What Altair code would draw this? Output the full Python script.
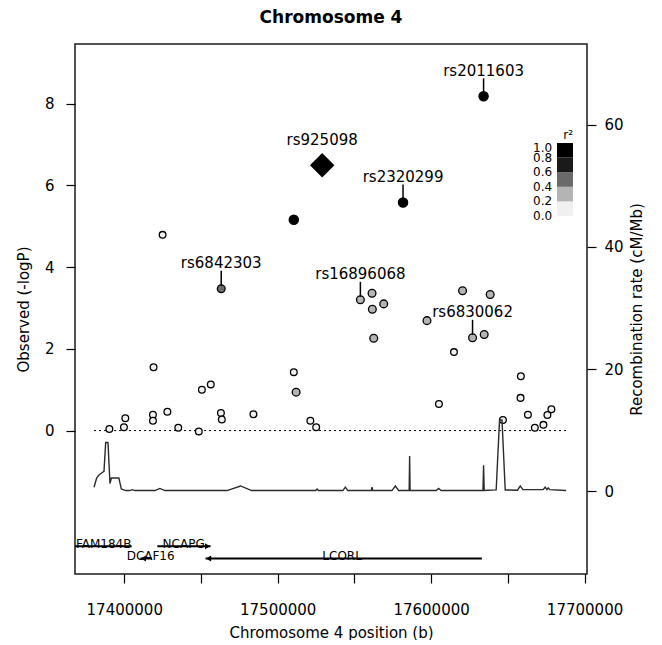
import altair as alt
import pandas as pd

FONT = "DejaVu Sans"

# ---------------- data ----------------
x_ticks = [17400000, 17450000, 17500000, 17550000, 17600000, 17650000, 17700000]
p_ticks = [0, 2, 4, 6, 8]
rec_ticks = [0, 20, 40, 60]
# legend boundaries (Vega skips the first entry of a discrete gradient, hence the leading 0)
r2_ticks = [0.0, 0.0001, 0.2, 0.4, 0.6, 0.8, 1.0]
X_DOMAIN = [17367900, 17701600]
P_DOMAIN = [-3.51, 9.46]
R_DOMAIN = [-13.5, 73.2]

snp_pos = [17425000, 17419100, 17450600, 17456400, 17510500, 17400700, 17399800,
           17390300, 17418700, 17418700, 17428100, 17435200, 17448600, 17463000,
           17463600, 17484200, 17521300, 17525100, 17614900, 17658500, 17658300,
           17605100, 17663100, 17646800, 17667600, 17673200, 17675800, 17678400,
           17512000, 17553900, 17561500, 17561700, 17569100, 17562600, 17597300,
           17620500, 17638500, 17627000, 17634600,
           17463200,
           17634200, 17581700, 17510500]
snp_logp = [4.79, 1.55, 1.00, 1.13, 1.43, 0.30, 0.08,
            0.04, 0.39, 0.24, 0.46, 0.07, -0.02, 0.43,
            0.27, 0.40, 0.24, 0.08, 1.92, 1.33, 0.80,
            0.65, 0.39, 0.26, 0.07, 0.14, 0.38, 0.52,
            0.94, 3.20, 3.36, 2.97, 3.10, 2.26, 2.69,
            3.42, 3.33, 2.27, 2.35,
            3.47,
            8.18, 5.58, 5.16]
snp_r2 = [0.05, 0.05, 0.05, 0.05, 0.05, 0.05, 0.05,
          0.05, 0.05, 0.05, 0.05, 0.05, 0.05, 0.05,
          0.05, 0.05, 0.05, 0.05, 0.05, 0.05, 0.05,
          0.05, 0.05, 0.05, 0.05, 0.05, 0.05, 0.05,
          0.3, 0.3, 0.3, 0.3, 0.3, 0.3, 0.3,
          0.3, 0.3, 0.3, 0.3,
          0.5,
          0.9, 0.9, 0.9]
snp_name = ["", "", "", "", "", "", "",
            "", "", "", "", "", "", "",
            "", "", "", "", "", "", "",
            "", "", "", "", "", "", "",
            "", "rs16896068", "", "", "", "", "",
            "", "", "rs6830062", "",
            "rs6842303",
            "rs2011603", "rs2320299", ""]

lead_pos = [17529000]
lead_logp = [6.49]
lead_name = ["rs925098"]

rec_pos = [17380300, 17382000, 17383500, 17385700, 17386800, 17387900, 17389400,
           17390700, 17391600, 17396500, 17398100, 17400900, 17403500, 17405300,
           17407000, 17420000, 17423200, 17426500, 17467000, 17475800, 17483000,
           17524800, 17525700, 17526600, 17542500, 17544100, 17545700, 17561000,
           17561500, 17562000, 17574500, 17576700, 17578900, 17585700, 17586000,
           17586300, 17603300, 17604900, 17606500, 17633800, 17634200, 17634600,
           17642400, 17644600, 17646200, 17648300, 17656300, 17658100, 17659900,
           17673000, 17674300, 17675500, 17676300, 17677300, 17688000]
rec_rate = [0.7, 2.2, 2.7, 3.1, 3.3, 8.0, 8.0,
            1.3, 2.2, 2.2, 0.4, 0.15, 0.15, 0.3,
            0.15, 0.15, 0.5, 0.15, 0.15, 0.9, 0.15,
            0.15, 0.4, 0.15, 0.15, 0.7, 0.15, 0.15,
            0.7, 0.15, 0.15, 0.9, 0.15, 0.15, 5.8,
            0.15, 0.15, 0.5, 0.15, 0.15, 4.3, 0.15,
            0.25, 11.7, 11.7, 0.25, 0.2, 0.9, 0.3,
            0.3, 0.7, 0.3, 0.6, 0.3, 0.15]

gene_name = ["FAM184B", "NCAPG", "DCAF16", "LCORL"]
gene_start = [17340000, 17421550, 17410500, 17453000]
gene_end = [17404800, 17456250, 17418000, 17633100]
gene_strand = ["-", "+", "-", "-"]
gene_row = [0, 0, 1, 1]
gene_label_pos = [17386600, 17438700, 17417200, 17542000]

r2_colors = ["#f0f0f0", "#b4b4b4", "#6a6a6a", "#1a1a1a", "#000000"]

# ---------------- tables ----------------
snps = pd.DataFrame({"pos": snp_pos, "logp": snp_logp, "r2": snp_r2, "name": snp_name})
labeled = snps[snps["name"] != ""]
lead = pd.DataFrame({"pos": lead_pos, "logp": lead_logp, "name": lead_name})
all_labels = pd.concat([labeled[["pos", "logp", "name"]], lead], ignore_index=True)
rec = pd.DataFrame({"pos": rec_pos, "rate": rec_rate})
genes = pd.DataFrame({"name": gene_name, "start": gene_start, "end": gene_end,
                      "strand": gene_strand, "row": gene_row, "lpos": gene_label_pos})
base = pd.DataFrame({"x0": [min(rec_pos)], "x1": [max(rec_pos)], "v": [0]})

# ---------------- scales / axes ----------------
x_axis = alt.Axis(values=x_ticks,
                  labelExpr="datum.value % 100000 === 0 ? format(datum.value, 'd') : ''",
                  title="Chromosome 4 position (b)", tickSize=9, labelPadding=19,
                  titlePadding=8, labelFlush=False, labelOverlap=False,
                  grid=False, domain=False)
x_scale = alt.Scale(domain=X_DOMAIN, nice=False, zero=False)
p_axis = alt.Axis(values=p_ticks, title="Observed (-logP)", orient="left", tickSize=9,
                  labelPadding=12, titlePadding=13, grid=False, domain=False)
p_scale = alt.Scale(domain=P_DOMAIN, nice=False, zero=False)
r_axis = alt.Axis(values=rec_ticks, title="Recombination rate (cM/Mb)", orient="right",
                  tickSize=9, labelPadding=8, titlePadding=6, titleAngle=270,
                  titleBaseline="top", grid=False, domain=False)
r_scale = alt.Scale(domain=R_DOMAIN, nice=False, zero=False)


def X(field):
    return alt.X(f"{field}:Q", scale=x_scale, axis=x_axis)


def Y(field):
    return alt.Y(f"{field}:Q", scale=p_scale, axis=p_axis)


dotted = alt.Chart(base).mark_rule(strokeDash=[2, 3], color="black", strokeWidth=1).encode(
    x=X("x0"), x2="x1:Q", y=Y("v"))

gene_base = alt.Chart(genes).transform_calculate(gy="-2.83 - 0.30 * datum.row")

gene_lines = gene_base.mark_rule(color="black", strokeWidth=2, clip=True).encode(
    x=X("start"), x2="end:Q", y=Y("gy"))

arrows_r = gene_base.transform_filter("datum.strand === '+'").mark_point(
    shape="triangle-right", filled=True, size=35, color="black", opacity=1,
    xOffset=-3, clip=True).encode(x=X("end"), y=Y("gy"))

arrows_l = gene_base.transform_filter("datum.strand === '-'").mark_point(
    shape="triangle-left", filled=True, size=35, color="black", opacity=1,
    xOffset=3, clip=True).encode(x=X("start"), y=Y("gy"))

gene_text = gene_base.mark_text(fontSize=12, font=FONT, baseline="alphabetic", dy=2,
                                color="black").encode(x=X("lpos"), y=Y("gy"), text="name:N")

points = alt.Chart(snps).mark_point(shape="circle", filled=True, stroke="black",
                                    strokeWidth=1.3, opacity=1).encode(
    x=X("pos"), y=Y("logp"),
    fill=alt.Fill("r2:Q", scale=alt.Scale(type="quantize", domain=[0, 1], range=r2_colors),
                  legend=alt.Legend(type="gradient", title="r²", orient="none",
                                    legendX=482, legendY=86, direction="vertical",
                                    values=r2_ticks,
                                    gradientLength=73, gradientThickness=16,
                                    labelAlign="left", labelOffset={"expr": "-40"},
                                    labelFontSize=12, labelFont=FONT, format=".1f",
                                    labelOverlap=False, titleFont=FONT, titleFontSize=12,
                                    titleFontWeight="normal", titleAnchor="end",
                                    titlePadding=1, gradientStrokeWidth=0,
                                    labelColor="black", titleColor="black")),
    size=alt.Size("r2:Q", scale=alt.Scale(type="threshold", domain=[0.2, 0.8],
                                          range=[45, 60, 85]), legend=None))

lead_pt = alt.Chart(lead).mark_point(shape="diamond", filled=True, size=600, color="black",
                                     opacity=1).encode(x=X("pos"), y=Y("logp"))

connectors = alt.Chart(labeled).mark_rule(color="black", strokeWidth=1.5, yOffset=-3,
                                          y2Offset=-18).encode(
    x=X("pos"), y=Y("logp"), y2="logp:Q")

snp_text = alt.Chart(all_labels).mark_text(dy=-25.5, fontSize=15, font=FONT,
                                           baseline="middle", color="black").encode(
    x=X("pos"), y=Y("logp"), text="name:N")

left = alt.layer(dotted, gene_lines, arrows_r, arrows_l, gene_text, points, lead_pt,
                 connectors, snp_text)

right = alt.Chart(rec).mark_line(color="#2b2b2b", strokeWidth=1.4).encode(
    x=X("pos"), y=alt.Y("rate:Q", scale=r_scale, axis=r_axis))

chart = alt.layer(left, right).resolve_scale(y="independent").properties(
    width=512, height=530,
    title=alt.Title("Chromosome 4", fontSize=17, font=FONT, fontWeight="bold",
                    color="black", offset=17.5, anchor="middle"),
    padding={"left": 8, "top": 0, "right": 5, "bottom": 0},
).configure_view(stroke="#1a1a1a", strokeWidth=1.5).configure_axis(
    labelFont=FONT, titleFont=FONT, labelFontSize=15, titleFontSize=15,
    titleFontWeight="normal", labelColor="black", titleColor="black",
    tickColor="black", tickWidth=1.2)

chart.save("out.html", embed_options={"renderer": "svg", "actions": False})
